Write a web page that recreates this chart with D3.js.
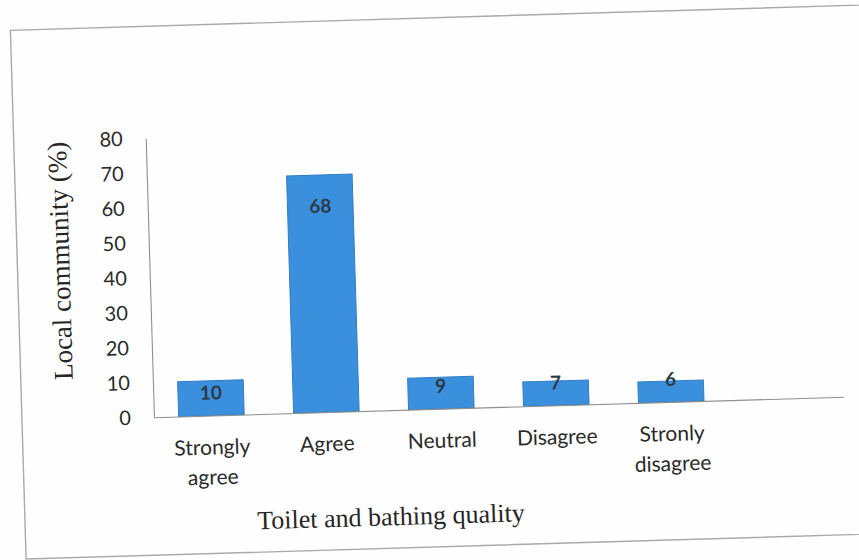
<!DOCTYPE html>
<html>
<head>
<meta charset="utf-8">
<script src="https://cdn.jsdelivr.net/npm/d3@7/dist/d3.min.js"></script>
<style>
  html, body { margin: 0; padding: 0; background: #fefefe; }
  svg { display: block; }
</style>
</head>
<body>
<svg id="chart" width="859" height="560"></svg>
<script>
// Survey answers: toilet and bathing quality, share of local community (%)
const categories = ["Strongly agree", "Agree", "Neutral", "Disagree", "Stronly disagree"];
const categoryLines = [["Strongly", "agree"], ["Agree"], ["Neutral"], ["Disagree"], ["Stronly", "disagree"]];
const percentValues = [10, 68, 9, 7, 6];
const yTickValues = [0, 10, 20, 30, 40, 50, 60, 70, 80];
const yTitle = "Local community (%)";
const xTitle = "Toilet and bathing quality";

const svg = d3.select("#chart");
const W = 859, H = 560;

// whole sheet is drawn slightly tilted
const sheet = svg.append("g").attr("transform", `rotate(-1.7, ${W / 2}, ${H / 2})`);

// outer chart frame
sheet.append("rect")
  .attr("x", 18).attr("y", 18)
  .attr("width", 900).attr("height", 529)
  .attr("fill", "none")
  .attr("stroke", "#a9aaa8")
  .attr("stroke-width", 1.4);

const plot = { left: 150, right: 840, top: 130, bottom: 409 };

// six slots on the category axis; the last one is left empty
const x = d3.scaleBand()
  .domain(categories.concat([""]))
  .range([plot.left, plot.right])
  .paddingInner(0.43)
  .paddingOuter(0.215);

const y = d3.scaleLinear()
  .domain([0, 80])
  .range([plot.bottom, plot.top]);

const tickFont = "Lato, 'Open Sans', sans-serif";

// y axis
const yAxis = sheet.append("g")
  .attr("transform", `translate(${plot.left},0)`)
  .call(d3.axisLeft(y).tickValues(yTickValues).tickSize(0).tickPadding(23));
yAxis.select(".domain").attr("stroke", "#8e8f8d").attr("stroke-width", 1.1);
yAxis.selectAll("text")
  .attr("font-family", tickFont)
  .attr("font-size", 20)
  .attr("fill", "#2a2a2a");

// bars
sheet.append("g").selectAll("rect")
  .data(percentValues)
  .join("rect")
  .attr("x", (d, i) => x(categories[i]))
  .attr("y", d => y(d))
  .attr("width", x.bandwidth())
  .attr("height", d => y(0) - y(d))
  .attr("fill", "#3b90dd")
  .attr("stroke", "#2f7cc4")
  .attr("stroke-width", 1);

// value labels near the top of each bar
const labelFloor = y(6.5);
sheet.append("g").selectAll("text")
  .data(percentValues)
  .join("text")
  .attr("x", (d, i) => x(categories[i]) + x.bandwidth() / 2)
  .attr("y", d => Math.min(y(d) + 31, labelFloor))
  .attr("dy", "0.35em")
  .attr("text-anchor", "middle")
  .attr("font-family", tickFont)
  .attr("font-weight", 700)
  .attr("font-size", 19)
  .attr("fill", "#2c3a48")
  .text(d => d);

// x axis line across all slots
const xAxis = sheet.append("g")
  .attr("transform", `translate(0,${plot.bottom})`)
  .call(d3.axisBottom(x).tickValues(categories).tickSize(0).tickFormat(""));
xAxis.select(".domain").attr("stroke", "#8e8f8d").attr("stroke-width", 1.1);

// wrapped category labels
xAxis.selectAll(".tick").each(function (d) {
  const lines = categoryLines[categories.indexOf(d)];
  const t = d3.select(this).append("text")
    .attr("fill", "#2a2a2a")
    .attr("font-family", tickFont)
    .attr("font-size", 21)
    .attr("text-anchor", "middle");
  lines.forEach((s, k) => {
    t.append("tspan").attr("x", 0).attr("y", 39 + k * 30).text(s);
  });
});

// axis titles
sheet.append("text")
  .attr("transform", `translate(70,250) rotate(-90)`)
  .attr("text-anchor", "middle")
  .attr("font-family", "'Liberation Serif', 'Times New Roman', serif")
  .attr("font-size", 27)
  .attr("fill", "#262626")
  .text(yTitle);

sheet.append("text")
  .attr("x", 384).attr("y", 524)
  .attr("text-anchor", "middle")
  .attr("font-family", "'Liberation Serif', 'Times New Roman', serif")
  .attr("font-size", 26)
  .attr("fill", "#262626")
  .text(xTitle);
</script>
</body>
</html>
